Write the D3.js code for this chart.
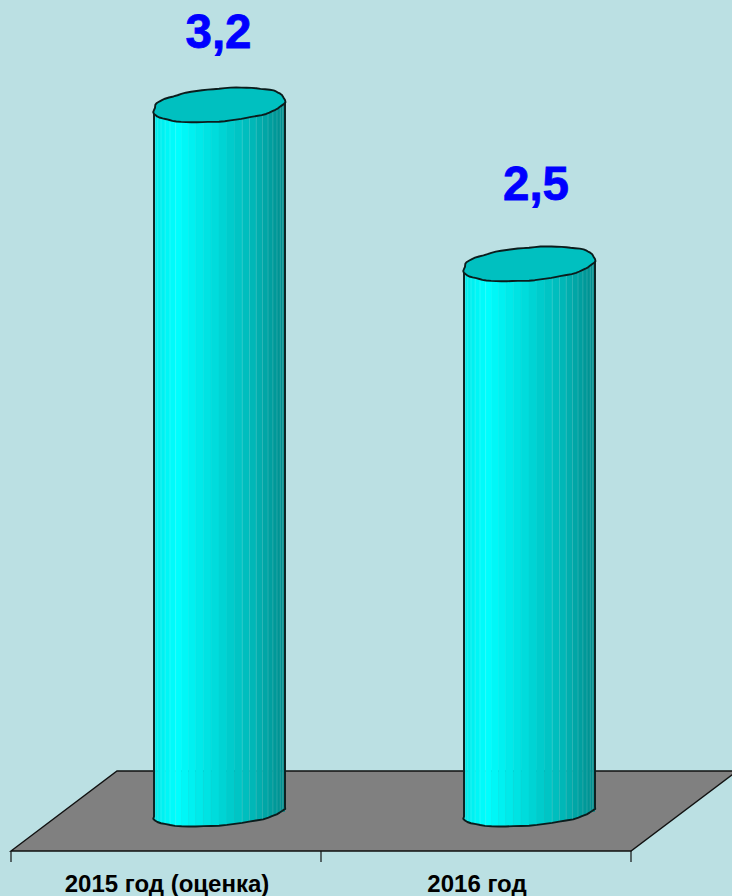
<!DOCTYPE html>
<html><head><meta charset="utf-8">
<script src="https://cdn.jsdelivr.net/npm/d3@7"></script>
<style>html,body{margin:0;padding:0;background:#bbe0e3}svg{display:block}</style>
</head><body><svg id="c" width="732" height="896"></svg>
<script>
const categories = ["2015 год (оценка)", "2016 год"];
const values = [3.2, 2.48];

const svg = d3.select("#c");
const font = '"Liberation Sans", Arial, sans-serif';
const x = d3.scaleBand().domain(categories).range([11, 631]);
const y = d3.scaleLinear().domain([0, 3.2]).range([811.5, 105]);
const fmt = v => d3.format(".1f")(v).replace(".", ",");

// floor
const front = 851, back = 771, depth = 106;
svg.append("path")
  .attr("d", `M11,${front}L${11 + depth},${back}L${631 + depth},${back}L631,${front}Z`)
  .attr("fill", "#808080").attr("stroke", "#111").attr("stroke-width", 1.4);

// category axis
const axis = d3.axisBottom(x).tickSize(0).tickPadding(0).tickFormat(d => d);
const ax = svg.append("g").attr("transform", `translate(1,${front})`).call(axis);
ax.select(".domain").remove();
ax.selectAll("text").attr("y", 41).attr("dy", 0)
  .attr("font-family", font).attr("font-weight", "bold").attr("font-size", 24).attr("fill", "#000");
[...x.domain().map(d => x(d)), x.range()[1]].forEach(t => {
  ax.append("line").attr("x1", t - 1).attr("x2", t - 1).attr("y1", 0).attr("y2", 11)
    .attr("stroke", "#111").attr("stroke-width", 1.2);
});

// cylinders
const a = 65.5, tilt = 5, bTop = 16.5, bBot = 14, facets = 26, shift = 53;
const shade = d3.scaleLinear()
  .domain([0, 0.08, 0.18, 0.5, 0.75, 1])
  .range(["#00e6e6", "#00f2f2", "#00ffff", "#00d8d8", "#00b8b8", "#008c8c"]);
const wob = t => 1 + 0.012 * Math.sin(9 * t + 0.7) + 0.007 * Math.sin(17 * t);
const pt = (cx, cy, b, t) => {
  const w = wob(t), s = Math.sin(t);
  const blunt = Math.sign(s) * Math.pow(Math.abs(s), 0.85);
  return [cx + a * Math.cos(t) * w, cy - tilt * Math.cos(t) + b * blunt * w];
};
const line = d3.line();

categories.forEach((c, i) => {
  const cx = x(c) + x.bandwidth() / 2 + shift;
  const top = y(values[i]), bot = y(0);
  const g = svg.append("g");
  const ang = d3.range(facets + 1).map(k => Math.PI - Math.PI * k / facets);
  const straight = t => cx + a * Math.cos(t);
  d3.pairs(ang).forEach(([t0, t1], k) => {
    const x0 = straight(t0), x1 = straight(t1);
    const u = ((x0 + x1) / 2 - (cx - a)) / (2 * a);
    const yt0 = top - tilt * Math.cos(t0) + bTop * Math.sin(t0),
          yt1 = top - tilt * Math.cos(t1) + bTop * Math.sin(t1);
    const p0 = pt(cx, bot, bBot, t0), p1 = pt(cx, bot, bBot, t1);
    g.append("path")
      .attr("d", line([[x0, yt0], [x1, yt1], [x1, Math.max(p1[1], bot)], [x0, Math.max(p0[1], bot)]]) + "Z")
      .attr("fill", shade(u)).attr("stroke", shade(u)).attr("stroke-width", 0.5);
    if (k > 0 && (u > 0.66 || u < 0.2)) {
      g.append("line").attr("x1", x0).attr("x2", x0).attr("y1", yt0).attr("y2", p0[1])
        .attr("stroke", "#fff").attr("stroke-opacity", 0.14).attr("stroke-width", 1);
    }
  });
  // bottom outline + side edges
  const arc = ang.map(t => pt(cx, bot, bBot, t));
  const outline = [pt(cx, top, 0, Math.PI), ...arc, pt(cx, top, 0, 0)];
  g.append("path").attr("d", line(outline)).attr("fill", "none")
    .attr("stroke", "#0b1c1c").attr("stroke-width", 1.9).attr("stroke-linejoin", "round");
  // top cap
  const cap = d3.range(72).map(k => pt(cx, top, bTop, k / 72 * 2 * Math.PI));
  g.append("path").attr("d", line(cap) + "Z").attr("fill", "#00c0c0")
    .attr("stroke", "#0b1c1c").attr("stroke-width", 1.9).attr("stroke-linejoin", "round");
  // value label
  svg.append("text").attr("x", cx + (i ? 7 : -0.5)).attr("y", top - (i ? 64 : 57))
    .attr("text-anchor", "middle").attr("font-family", font).attr("font-weight", "bold")
    .attr("font-size", 47.5).attr("fill", "#0000ff")
    .attr("stroke", "#0000ff").attr("stroke-width", 0.8).text(fmt(values[i]));
});
</script></body></html>
